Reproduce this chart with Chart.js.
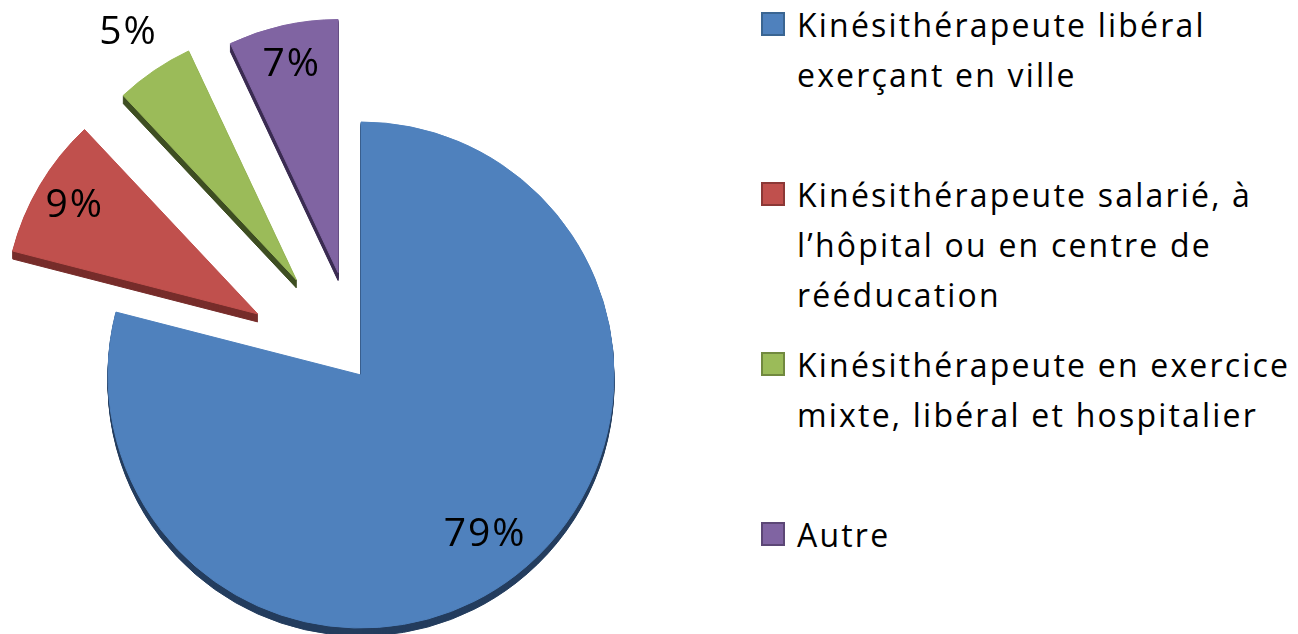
<!DOCTYPE html>
<html><head><meta charset="utf-8">
<script src="https://cdn.jsdelivr.net/npm/chart.js@4.4.0/dist/chart.umd.min.js"></script>
<style>
html,body{margin:0;padding:0;background:#fff;width:1298px;height:634px;overflow:hidden;font-family:'Open Sans',sans-serif;}
#wrap{position:absolute;left:0;top:0;width:722px;height:634px;}
#legend{position:absolute;left:761px;top:0;width:537px;height:634px;}
.item{position:absolute;left:0;white-space:nowrap;}
.sw{position:absolute;left:0;top:12px;width:20px;height:20px;border:2px solid;}
.txt{position:absolute;left:36px;top:0;font-size:32px;line-height:50px;letter-spacing:2.2px;color:#000;}
</style></head><body>
<div id="wrap"><canvas id="c"></canvas></div>
<div id="legend"></div>
<script>
// ---- data ----
const categories = [
  ["Kinésithérapeute libéral", "exerçant en ville"],
  ["Kinésithérapeute salarié, à", "l’hôpital ou en centre de", "rééducation"],
  ["Kinésithérapeute en exercice", "mixte, libéral et hospitalier"],
  ["Autre"]
];
const values = [79, 9, 5, 7];
const valueLabels = ["79%", "9%", "5%", "7%"];

// ---- style ----
const faceColors = ['#4f81bd', '#c0504d', '#9bbb59', '#8064a2'];
const edgeColors = ['#3a6592', '#8c3836', '#71893f', '#5c4776'];
const sideColors = ['#243d5e', '#772d2b', '#3e4e22', '#3b2c52'];
const explode = [0, 120, 115, 105];           // px, along each slice's mid-angle
const labelRadius = [0.80, 0.84, 1.18, 0.84];  // fraction of radius
const DEPTH = 8;

// legend (HTML)
const leg = document.getElementById('legend');
categories.forEach((lines, i) => {
  const it = document.createElement('div');
  it.className = 'item';
  it.style.top = (170 * i) + 'px';
  const sw = document.createElement('div');
  sw.className = 'sw';
  sw.style.background = faceColors[i];
  sw.style.borderColor = edgeColors[i];
  const tx = document.createElement('div');
  tx.className = 'txt';
  tx.innerHTML = lines.join('<br>');
  it.appendChild(sw); it.appendChild(tx);
  leg.appendChild(it);
});

function explodeShift(arc, i) {
  const mid = (arc.startAngle + arc.endAngle) / 2;
  return [Math.cos(mid) * explode[i], Math.sin(mid) * explode[i]];
}

// exploded slices with 3D side faces, drawn by the library's own arc elements
const explodePlugin = {
  id: 'explode3d',
  beforeDatasetDraw(chart, args) {
    const ctx = chart.ctx;
    const arcs = args.meta.data;
    arcs.forEach((arc, i) => {
      const [dx, dy] = explodeShift(arc, i);
      const orig = arc.options;
      arc.options = Object.assign({}, orig, {backgroundColor: sideColors[i], borderColor: sideColors[i], borderWidth: 1});
      for (let d = DEPTH; d >= 1; d--) {
        ctx.save();
        ctx.translate(dx, dy + d);
        arc.draw(ctx);
        ctx.restore();
      }
      arc.options = orig;
    });
    arcs.forEach((arc, i) => {
      const [dx, dy] = explodeShift(arc, i);
      ctx.save();
      ctx.translate(dx, dy);
      arc.draw(ctx);
      ctx.restore();
    });
    return false;
  }
};

// percentage labels
const valueLabelPlugin = {
  id: 'valueLabels',
  afterDatasetsDraw(chart) {
    const ctx = chart.ctx;
    const meta = chart.getDatasetMeta(0);
    const R = meta.controller.outerRadius;
    ctx.save();
    ctx.font = '39px "Open Sans"';
    if ('letterSpacing' in ctx) ctx.letterSpacing = '2px';
    ctx.fillStyle = '#000';
    ctx.textAlign = 'center';
    ctx.textBaseline = 'middle';
    meta.data.forEach((arc, i) => {
      const mid = (arc.startAngle + arc.endAngle) / 2;
      const r = explode[i] + R * labelRadius[i];
      ctx.fillText(valueLabels[i], arc.x + Math.cos(mid) * r, arc.y + Math.sin(mid) * r);
    });
    ctx.restore();
  }
};

new Chart(document.getElementById('c'), {
  type: 'pie',
  data: {
    labels: categories,
    datasets: [{
      data: values,
      backgroundColor: faceColors,
      borderColor: faceColors,
      borderWidth: 1,
      hoverOffset: 0,
      clip: false
    }]
  },
  options: {
    responsive: true,
    maintainAspectRatio: false,
    animation: false,
    radius: 253,
    layout: {padding: {top: 116, bottom: 0, left: 0, right: 0}},
    plugins: {legend: {display: false}, tooltip: {enabled: false}}
  },
  plugins: [explodePlugin, valueLabelPlugin]
});
</script>
</body></html>
